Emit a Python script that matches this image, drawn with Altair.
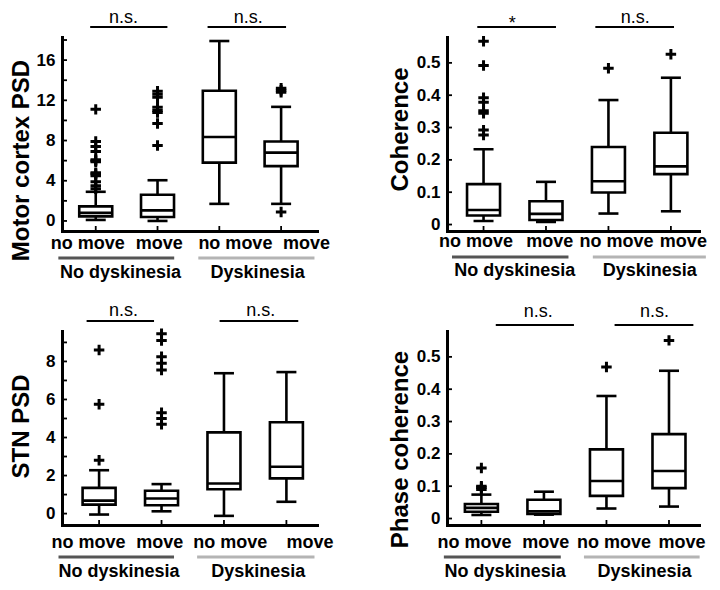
import altair as alt
import pandas as pd

# ---------------- data ----------------
groups = ["ND no move", "ND move", "D no move", "D move"]
positions = [1, 2, 3, 4]

# Panel 1: Motor cortex PSD
mc_lo = [0.1, 0.0, 1.7, 1.7]
mc_q1 = [0.45, 0.4, 5.8, 5.45]
mc_med = [0.8, 1.05, 8.35, 6.8]
mc_q3 = [1.45, 2.6, 12.95, 7.9]
mc_hi = [2.9, 4.05, 17.9, 11.35]
mc_out = [
    [3.2, 3.5, 3.9, 4.5, 4.7, 4.8, 5.9, 6.0, 6.1, 6.9, 7.4, 7.9, 11.1],
    [7.5, 9.7, 10.8, 11.0, 11.3, 12.3, 12.6, 12.9],
    [],
    [0.9, 12.8, 13.0, 13.2],
]

# Panel 2: Coherence
co_lo = [0.011, 0.008, 0.034, 0.041]
co_q1 = [0.028, 0.014, 0.099, 0.156]
co_med = [0.045, 0.033, 0.134, 0.18]
co_q3 = [0.125, 0.072, 0.240, 0.284]
co_hi = [0.233, 0.132, 0.385, 0.454]
co_out = [
    [0.567, 0.492, 0.392, 0.378, 0.352, 0.344, 0.292, 0.277],
    [],
    [0.483],
    [0.527],
]

# Panel 3: STN PSD
st_lo = [-0.05, 0.12, -0.12, 0.62]
st_q1 = [0.47, 0.44, 1.28, 1.85]
st_med = [0.68, 0.79, 1.58, 2.46]
st_q3 = [1.35, 1.2, 4.27, 4.8]
st_hi = [2.28, 1.55, 7.38, 7.44]
st_out = [
    [2.8, 5.75, 8.6],
    [4.7, 5.0, 5.3, 7.55, 7.9, 8.25, 9.1, 9.45],
    [],
    [],
]

# Panel 4: Phase coherence
ph_lo = [0.011, 0.012, 0.031, 0.037]
ph_q1 = [0.021, 0.014, 0.070, 0.094]
ph_med = [0.033, 0.022, 0.116, 0.147]
ph_q3 = [0.045, 0.058, 0.214, 0.261]
ph_hi = [0.074, 0.083, 0.379, 0.457]
ph_out = [
    [0.090, 0.096, 0.100, 0.156],
    [],
    [0.469],
    [0.551],
]

x_labels = ["no move", "move", "no move", "move"]
group_names = ["No dyskinesia", "Dyskinesia"]

FONT = "Liberation Sans, Arial, sans-serif"
H = 194
PLUS = "M-1,0L1,0M0,-1L0,1"


def panel(title, lo, q1, med, q3, hi, outl, ydom, major, minor, fmt, w,
          xdom, sig_bars, sig_texts, sig_y, lbl_x, line_x, grp_x, offs, title_xy):
    box = pd.DataFrame({"pos": positions, "lo": lo, "q1": q1, "med": med,
                        "q3": q3, "hi": hi})
    orows = [{"pos": p, "v": v} for p, vals in zip(positions, outl) for v in vals]
    odf = pd.DataFrame(orows)

    xs = alt.Scale(domain=xdom, nice=False, zero=False)
    ys = alt.Scale(domain=ydom, nice=False, zero=False)
    xaxis = alt.Axis(labels=False, ticks=False, title=None, grid=False,
                     domainColor="black", domainWidth=3, domainCap="square")
    yaxis = alt.Axis(values=major, format=fmt, ticks=False, grid=False,
                     labelOverlap=False, labelFlush=False,
                     labelFont=FONT, labelFontSize=17, labelFontWeight="bold",
                     labelColor="black", labelPadding=7,
                     domainColor="black", domainWidth=3, domainCap="square",
                     title=title, titleFont=FONT, titleFontSize=24,
                     titleFontWeight="bold", titleColor="black",
                     titleAngle=270, titleAlign="center",
                     titleBaseline="middle",
                     titleX=title_xy[0], titleY=title_xy[1])

    def XQ(f):
        return alt.X(f, type="quantitative", scale=xs, axis=xaxis)

    def YQ(f):
        return alt.Y(f, type="quantitative", scale=ys, axis=yaxis)

    base = alt.Chart(box)
    whisk = base.mark_rule(color="black", strokeWidth=2.6).encode(
        x=XQ("pos"), y=YQ("lo"), y2="hi:Q")
    boxm = base.mark_bar(size=33, fill="white", stroke="black", strokeWidth=2.6,
                         orient="vertical").encode(x=XQ("pos"), y=YQ("q1"), y2="q3:Q")
    medm = base.mark_tick(orient="horizontal", size=33, thickness=2.6,
                          color="black", opacity=1).encode(x=XQ("pos"), y=YQ("med"))
    caplo = base.mark_tick(orient="horizontal", size=20, thickness=2.6,
                           color="black", opacity=1).encode(x=XQ("pos"), y=YQ("lo"))
    caphi = base.mark_tick(orient="horizontal", size=20, thickness=2.6,
                           color="black", opacity=1).encode(x=XQ("pos"), y=YQ("hi"))
    layers = [whisk, boxm, medm, caplo, caphi]
    if len(odf):
        layers.append(alt.Chart(odf).mark_point(
            shape=PLUS, size=110, filled=False, stroke="black", strokeWidth=3,
            opacity=1).encode(x=XQ("pos"), y=YQ("v")))

    # inward axis ticks
    tdf = pd.DataFrame({"t": list(major) + list(minor)})
    layers.append(alt.Chart(tdf).mark_rule(color="black", strokeWidth=1.8).encode(
        y=YQ("t"), x=alt.value(0), x2=alt.value(5)))
    layers.append(base.mark_rule(color="black", strokeWidth=1.8).encode(
        x=XQ("pos"), y=alt.value(H), y2=alt.value(H - 5)))

    # significance bars and texts
    for (a, b), yy in zip(sig_bars, sig_y):
        layers.append(alt.Chart(pd.DataFrame({"a": [a], "b": [b]})).mark_rule(
            color="black", strokeWidth=1.8).encode(x=XQ("a"), x2="b:Q", y=alt.value(yy)))
    for (tx, label, ty) in sig_texts:
        layers.append(
            alt.Chart(pd.DataFrame({"x": [tx], "s": [label]})).mark_text(
                font=FONT, fontSize=18, fontWeight="normal", color="black",
                align="center", baseline="alphabetic").encode(
                x=XQ("x"), y=alt.value(ty), text="s:N"))

    # category labels, group lines and group names
    ldf = pd.DataFrame({"x": lbl_x, "s": x_labels})
    layers.append(alt.Chart(ldf).mark_text(font=FONT, fontSize=18, fontWeight="bold",
                                           color="black", align="center",
                                           baseline="alphabetic").encode(
        x=XQ("x"), y=alt.value(H + offs[0]), text="s:N"))
    for (a, b), col in zip(line_x, ["#555555", "#b4b4b4"]):
        layers.append(alt.Chart(pd.DataFrame({"a": [a], "b": [b]})).mark_rule(
            color=col, strokeWidth=3).encode(x=XQ("a"), x2="b:Q", y=alt.value(H + offs[1])))
    gdf = pd.DataFrame({"x": grp_x, "s": group_names})
    layers.append(alt.Chart(gdf).mark_text(font=FONT, fontSize=18, fontWeight="bold",
                                           color="black", align="center",
                                           baseline="alphabetic").encode(
        x=XQ("x"), y=alt.value(H + offs[2]), text="s:N"))

    return alt.layer(*layers).properties(width=w, height=H)


p1 = panel("Motor cortex PSD", mc_lo, mc_q1, mc_med, mc_q3, mc_hi, mc_out,
           [-1, 18.3], [0, 4, 8, 12, 16], [2, 6, 10, 14, 18], "d", 255,
           [0.535, 4.5], [(0.91, 2.16), (2.81, 4.08)],
           [(1.45, "n.s.", -14), (3.47, "n.s.", -14)], [-10, -10],
           [0.87, 2.03, 3.26, 4.41], [(0.395, 2.27), (2.66, 4.54)], [1.4, 3.62],
           (18, 27, 47), (-41, 123))
p2 = panel("Coherence", co_lo, co_q1, co_med, co_q3, co_hi, co_out,
           [-0.02, 0.58], [0, 0.1, 0.2, 0.3, 0.4, 0.5], [], ".1~f", 252,
           [0.495, 4.37], [(0.9, 2.16), (2.79, 4.05)],
           [(1.46, "*", -8), (3.43, "n.s.", -14)], [-10, -10],
           [0.88, 2.06, 3.13, 4.2], [(0.495, 2.36), (2.75, 4.56)], [1.5, 3.66],
           (16, 26, 45), (-47, 92))
p3 = panel("STN PSD", st_lo, st_q1, st_med, st_q3, st_hi, st_out,
           [-0.6, 9.6], [0, 2, 4, 6, 8], [1, 3, 5, 7, 9], "d", 255,
           [0.486, 4.41], [(0.80, 1.88), (2.93, 4.19)],
           [(1.39, "n.s.", -15), (3.59, "n.s.", -15)], [-10, -10],
           [0.83, 1.97, 3.1, 4.38], [(0.35, 2.2), (2.57, 4.45)], [1.32, 3.55],
           (23, 32, 52), (-41, 95))
p4 = panel("Phase coherence", ph_lo, ph_q1, ph_med, ph_q3, ph_hi, ph_out,
           [-0.02, 0.58], [0, 0.1, 0.2, 0.3, 0.4, 0.5], [], ".1~f", 252,
           [0.53, 4.4], [(1.23, 2.48), (3.13, 4.39)],
           [(1.91, "n.s.", -14), (3.77, "n.s.", -14)], [-6, -6],
           [0.89, 2.03, 3.12, 4.21], [(0.4, 2.27), (2.64, 4.49)], [1.38, 3.61],
           (23, 32, 52), (-47, 118))

chart = alt.concat(p1, p2, p3, p4, columns=2, spacing={"row": 100, "column": 130},
                   bounds="flush").properties(
    padding={"left": 0, "top": 1, "right": 0, "bottom": 0},
    background="white",
).configure_view(stroke=None)

chart.save("out.html", embed_options={"renderer": "svg", "actions": False})
